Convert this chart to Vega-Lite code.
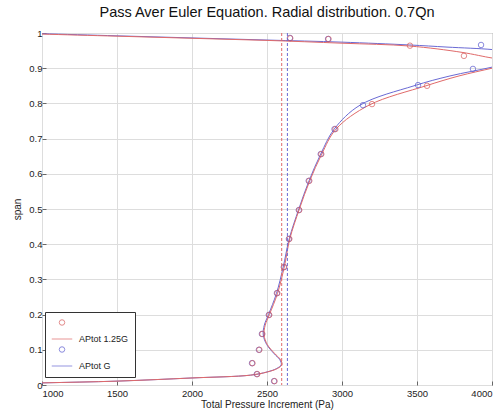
{
  "$schema": "https://vega.github.io/schema/vega-lite/v6.json",
  "autosize": {"type": "none"},
  "padding": {"left": 42, "top": 33, "right": 10, "bottom": 27},
  "width": 450,
  "height": 352,
  "background": "white",
  "title": {"text": "Pass Aver Euler Equation. Radial distribution. 0.7Qn", "fontSize": 14.5, "font": "Liberation Sans", "fontWeight": "normal", "anchor": "middle", "offset": 8, "color": "#111"},
  "config": {
    "view": {"stroke": "#777", "strokeWidth": 1},
    "axis": {"labelFont": "Liberation Sans", "titleFont": "Liberation Sans", "labelFontSize": 9.5, "titleFontSize": 10, "titleFontWeight": "normal", "labelColor": "#222", "titleColor": "#222", "gridColor": "#dddddd", "gridWidth": 1, "domain": false, "ticks": true, "tickSize": -4, "tickColor": "#666", "labelOverlap": false}
  },
  "datasets": {
    "lines": [
      {"series": "APtot G", "span": 0.0, "p": 400},
      {"series": "APtot G", "span": 0.006, "p": 1000},
      {"series": "APtot G", "span": 0.011, "p": 1500},
      {"series": "APtot G", "span": 0.02, "p": 2000},
      {"series": "APtot G", "span": 0.028, "p": 2390},
      {"series": "APtot G", "span": 0.037, "p": 2500},
      {"series": "APtot G", "span": 0.047, "p": 2565},
      {"series": "APtot G", "span": 0.058, "p": 2595},
      {"series": "APtot G", "span": 0.072, "p": 2585},
      {"series": "APtot G", "span": 0.09, "p": 2545},
      {"series": "APtot G", "span": 0.115, "p": 2498},
      {"series": "APtot G", "span": 0.142, "p": 2475},
      {"series": "APtot G", "span": 0.17, "p": 2482},
      {"series": "APtot G", "span": 0.2, "p": 2510},
      {"series": "APtot G", "span": 0.26, "p": 2563},
      {"series": "APtot G", "span": 0.335, "p": 2608},
      {"series": "APtot G", "span": 0.415, "p": 2648},
      {"series": "APtot G", "span": 0.5, "p": 2712},
      {"series": "APtot G", "span": 0.58, "p": 2780},
      {"series": "APtot G", "span": 0.656, "p": 2858},
      {"series": "APtot G", "span": 0.727, "p": 2948},
      {"series": "APtot G", "span": 0.795, "p": 3120},
      {"series": "APtot G", "span": 0.85, "p": 3480},
      {"series": "APtot G", "span": 0.878, "p": 3720},
      {"series": "APtot G", "span": 0.903, "p": 4000},
      {"series": "APtot G", "span": 0.925, "p": 4200},
      {"series": "APtot G", "span": 0.945, "p": 4150},
      {"series": "APtot G", "span": 0.953, "p": 4000},
      {"series": "APtot G", "span": 0.96, "p": 3700},
      {"series": "APtot G", "span": 0.966, "p": 3450},
      {"series": "APtot G", "span": 0.974, "p": 3000},
      {"series": "APtot G", "span": 0.98, "p": 2500},
      {"series": "APtot G", "span": 0.986, "p": 2000},
      {"series": "APtot G", "span": 0.992, "p": 1500},
      {"series": "APtot G", "span": 0.998, "p": 1000},
      {"series": "APtot G", "span": 1.0, "p": 800},
      {"series": "APtot 1.25G", "span": 0.0, "p": 400},
      {"series": "APtot 1.25G", "span": 0.006, "p": 1000},
      {"series": "APtot 1.25G", "span": 0.011, "p": 1500},
      {"series": "APtot 1.25G", "span": 0.02, "p": 2000},
      {"series": "APtot 1.25G", "span": 0.028, "p": 2390},
      {"series": "APtot 1.25G", "span": 0.037, "p": 2502},
      {"series": "APtot 1.25G", "span": 0.047, "p": 2570},
      {"series": "APtot 1.25G", "span": 0.058, "p": 2600},
      {"series": "APtot 1.25G", "span": 0.072, "p": 2590},
      {"series": "APtot 1.25G", "span": 0.09, "p": 2550},
      {"series": "APtot 1.25G", "span": 0.115, "p": 2502},
      {"series": "APtot 1.25G", "span": 0.142, "p": 2480},
      {"series": "APtot 1.25G", "span": 0.17, "p": 2488},
      {"series": "APtot 1.25G", "span": 0.2, "p": 2516},
      {"series": "APtot 1.25G", "span": 0.26, "p": 2570},
      {"series": "APtot 1.25G", "span": 0.335, "p": 2615},
      {"series": "APtot 1.25G", "span": 0.415, "p": 2652},
      {"series": "APtot 1.25G", "span": 0.5, "p": 2716},
      {"series": "APtot 1.25G", "span": 0.58, "p": 2785},
      {"series": "APtot 1.25G", "span": 0.656, "p": 2865},
      {"series": "APtot 1.25G", "span": 0.727, "p": 2960},
      {"series": "APtot 1.25G", "span": 0.795, "p": 3180},
      {"series": "APtot 1.25G", "span": 0.85, "p": 3560},
      {"series": "APtot 1.25G", "span": 0.878, "p": 3780},
      {"series": "APtot 1.25G", "span": 0.9, "p": 4000},
      {"series": "APtot 1.25G", "span": 0.915, "p": 4150},
      {"series": "APtot 1.25G", "span": 0.925, "p": 4080},
      {"series": "APtot 1.25G", "span": 0.929, "p": 4000},
      {"series": "APtot 1.25G", "span": 0.945, "p": 3800},
      {"series": "APtot 1.25G", "span": 0.963, "p": 3450},
      {"series": "APtot 1.25G", "span": 0.971, "p": 3000},
      {"series": "APtot 1.25G", "span": 0.979, "p": 2500},
      {"series": "APtot 1.25G", "span": 0.985, "p": 2000},
      {"series": "APtot 1.25G", "span": 0.991, "p": 1500},
      {"series": "APtot 1.25G", "span": 0.997, "p": 1000},
      {"series": "APtot 1.25G", "span": 1.0, "p": 800}
    ],
    "pts": [
      {"series": "oG", "span": 0.986, "p": 2653},
      {"series": "oG", "span": 0.983, "p": 2907},
      {"series": "oG", "span": 0.966, "p": 3927},
      {"series": "oG", "span": 0.898, "p": 3873},
      {"series": "oG", "span": 0.852, "p": 3507},
      {"series": "oG", "span": 0.795, "p": 3140},
      {"series": "oG", "span": 0.727, "p": 2950},
      {"series": "oG", "span": 0.656, "p": 2858},
      {"series": "oG", "span": 0.58, "p": 2778},
      {"series": "oG", "span": 0.497, "p": 2712},
      {"series": "oG", "span": 0.415, "p": 2646},
      {"series": "oG", "span": 0.335, "p": 2612},
      {"series": "oG", "span": 0.261, "p": 2566},
      {"series": "oG", "span": 0.199, "p": 2512},
      {"series": "oG", "span": 0.145, "p": 2466},
      {"series": "oG", "span": 0.1, "p": 2446},
      {"series": "oG", "span": 0.062, "p": 2400},
      {"series": "oG", "span": 0.031, "p": 2432},
      {"series": "oG", "span": 0.011, "p": 2547},
      {"series": "o1.25G", "span": 0.985, "p": 2655},
      {"series": "o1.25G", "span": 0.983, "p": 2910},
      {"series": "o1.25G", "span": 0.964, "p": 3453},
      {"series": "o1.25G", "span": 0.935, "p": 3813},
      {"series": "o1.25G", "span": 0.85, "p": 3567},
      {"series": "o1.25G", "span": 0.798, "p": 3200},
      {"series": "o1.25G", "span": 0.727, "p": 2956},
      {"series": "o1.25G", "span": 0.656, "p": 2862},
      {"series": "o1.25G", "span": 0.58, "p": 2782},
      {"series": "o1.25G", "span": 0.497, "p": 2715},
      {"series": "o1.25G", "span": 0.415, "p": 2649},
      {"series": "o1.25G", "span": 0.335, "p": 2615},
      {"series": "o1.25G", "span": 0.261, "p": 2569},
      {"series": "o1.25G", "span": 0.199, "p": 2515},
      {"series": "o1.25G", "span": 0.145, "p": 2469},
      {"series": "o1.25G", "span": 0.1, "p": 2449},
      {"series": "o1.25G", "span": 0.062, "p": 2403},
      {"series": "o1.25G", "span": 0.031, "p": 2435},
      {"series": "o1.25G", "span": 0.011, "p": 2550}
    ],
    "vlines": [
      {"series": "APtot 1.25G", "p": 2598},
      {"series": "APtot G", "p": 2636}
    ]
  },
  "layer": [
    {"data": {"name": "lines"}, "mark": {"type": "line", "interpolate": "catmull-rom", "strokeWidth": 1, "clip": true},
      "encoding": {
        "x": {"field": "p", "type": "quantitative", "scale": {"domain": [1000, 4000], "nice": false, "zero": false},
          "axis": {"title": "Total Pressure Increment (Pa)", "values": [1000, 1500, 2000, 2500, 3000, 3500, 4000], "format": "d", "labelPadding": 7, "titlePadding": 2}},
        "y": {"field": "span", "type": "quantitative", "scale": {"domain": [0, 1], "nice": false},
          "axis": {"title": "span", "values": [0, 0.1, 0.2, 0.3, 0.4, 0.5, 0.6, 0.7, 0.8, 0.9, 1], "format": "~g", "labelPadding": 4, "titlePadding": 6}},
        "color": {"field": "series", "type": "nominal",
          "scale": {"domain": ["o1.25G", "APtot 1.25G", "oG", "APtot G"], "range": ["#d85a5a", "#e06a6a", "#5a5ad0", "#6a6ad4"]},
          "legend": {"orient": "none", "legendX": 3, "legendY": 279, "title": null,
            "fillColor": "white", "strokeColor": "#333", "padding": 6, "labelFont": "Liberation Sans", "labelFontSize": 9, "labelColor": "#222",
            "symbolStrokeWidth": 1, "labelOffset": 6, "rowPadding": 0,
            "labelExpr": "indexof(datum.label, 'APtot') == 0 ? datum.label : ''"}},
        "order": {"field": "span", "type": "quantitative"}}},
    {"data": {"name": "pts"}, "mark": {"type": "point", "filled": false, "strokeWidth": 1, "clip": true},
      "encoding": {
        "x": {"field": "p", "type": "quantitative", "scale": {"domain": [1000, 4000], "nice": false, "zero": false},
          "axis": {"title": "Total Pressure Increment (Pa)", "values": [1000, 1500, 2000, 2500, 3000, 3500, 4000], "format": "d", "labelPadding": 7, "titlePadding": 2}},
        "y": {"field": "span", "type": "quantitative", "scale": {"domain": [0, 1], "nice": false},
          "axis": {"title": "span", "values": [0, 0.1, 0.2, 0.3, 0.4, 0.5, 0.6, 0.7, 0.8, 0.9, 1], "format": "~g", "labelPadding": 4, "titlePadding": 6}},
        "color": {"field": "series", "type": "nominal"},
        "size": {"field": "series", "type": "nominal", "scale": {"type": "ordinal", "domain": ["o1.25G", "APtot 1.25G", "oG", "APtot G"], "range": [30, 420, 30, 420]}},
        "shape": {"field": "series", "type": "nominal", "scale": {"domain": ["o1.25G", "APtot 1.25G", "oG", "APtot G"], "range": ["circle", "stroke", "circle", "stroke"]}}}},
    {"data": {"name": "vlines"}, "mark": {"type": "rule", "strokeDash": [3, 2], "strokeWidth": 1},
      "encoding": {
        "x": {"field": "p", "type": "quantitative", "scale": {"domain": [1000, 4000], "nice": false, "zero": false},
          "axis": {"title": "Total Pressure Increment (Pa)", "values": [1000, 1500, 2000, 2500, 3000, 3500, 4000], "format": "d", "labelPadding": 7, "titlePadding": 2}},
        "color": {"field": "series", "type": "nominal"}}}
  ]
}
